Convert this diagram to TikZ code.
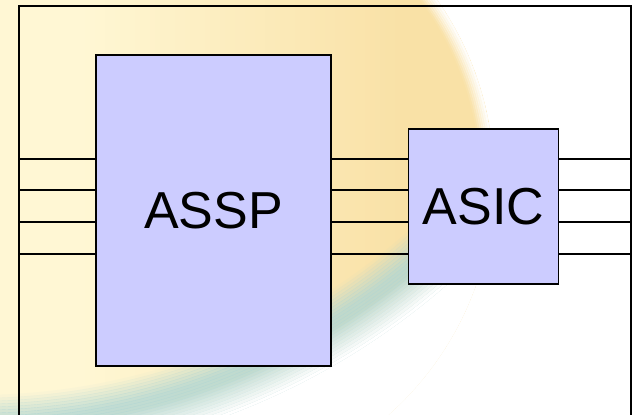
\documentclass[tikz,border=0pt]{standalone}
\usepackage{fontspec}
\setmainfont{Liberation Sans}
\definecolor{cPale}{RGB}{255,247,212}
\definecolor{cTan}{RGB}{249,225,166}
\definecolor{cTeal}{RGB}{176,214,212}
\definecolor{cBox}{RGB}{204,204,255}
\tikzset{
  chip/.style={draw=black, line width=1.6pt, fill=cBox, inner sep=0pt,
    font=\fontsize{52}{60}\selectfont},
  wire/.style={draw=black, line width=1.8pt},
  frameline/.style={draw=black, line width=1.8pt}
}
\begin{document}
\begin{tikzpicture}[x=1pt,y=-1pt]
\useasboundingbox (0,0) rectangle (633,415);
\fill[white] (0,0) rectangle (633,415);
% background orb
\begin{scope}
  \clip (0,0) rectangle (633,415);
  \clip (180,180) circle[radius=314];
  \foreach \x in {0,5,...,500}{
    \pgfmathsetmacro{\t}{min(100,max(0,(\x-80)/3.2))}
    \fill[cTan!\t!cPale] (\x,-10) rectangle ({\x+5.8},430);
  }
  \coordinate (c1) at (180,180);
  \foreach \r in {300,302,...,312}{
    \pgfmathsetmacro{\ga}{min(1,max(0,(\r-299)/14))}
    \fill[white, fill opacity=\ga, even odd rule] (c1) circle[radius={\r+2.3}] (c1) circle[radius=\r];
  }
  \coordinate (c2) at (-24,-257);
  \foreach \r in {640,643,...,718}{
    \pgfmathsetmacro{\al}{0.78*min(1,max(0,(\r-650)/25))}
    \pgfmathsetmacro{\be}{min(1,max(0,(\r-684)/30))}
    \fill[cTeal, fill opacity=\al, even odd rule] (c2) circle[radius={\r+3.4}] (c2) circle[radius=\r];
    \fill[white, fill opacity=\be, even odd rule] (c2) circle[radius={\r+3.4}] (c2) circle[radius=\r];
  }
  \fill[white, even odd rule] (c2) circle[radius=1400] (c2) circle[radius=720];
\end{scope}
% frame
\coordinate (fb) at (19,417);
\coordinate (ftl) at (19,6);
\coordinate (ftr) at (631,6);
\coordinate (fbr) at (631,417);
\draw[frameline] (fb) -- (ftl) -- (ftr) -- (fbr);
% chips
\node[chip, minimum width=235pt, minimum height=311pt] (assp) at (213.5,210.5) {ASSP};
\node[chip, minimum width=150pt, minimum height=155pt] (asic) at (483.5,206.5) {ASIC};
% wires
\foreach \i/\y in {1/159,2/190,3/222,4/254}{
  \coordinate (L\i) at (19,\y);
  \coordinate (R\i) at (631,\y);
  \draw[wire] (L\i) -- (L\i -| assp.west);
  \draw[wire] (L\i -| assp.east) -- (L\i -| asic.west);
  \draw[wire] (L\i -| asic.east) -- (R\i);
}
\end{tikzpicture}
\end{document}
